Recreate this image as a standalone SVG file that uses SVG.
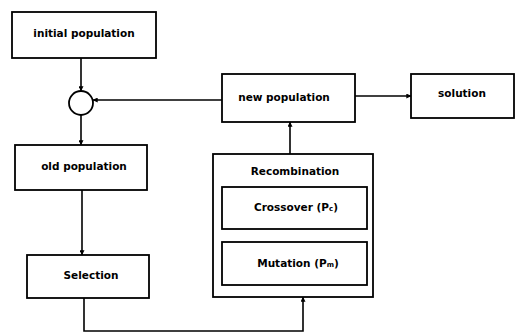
<svg xmlns="http://www.w3.org/2000/svg" width="516" height="334" viewBox="0 0 516 334">
<style>
.box{fill:#fff;stroke:#000;stroke-width:1.8}
.t{font-family:"DejaVu Sans","Liberation Sans",Arial,sans-serif;font-size:10.5px;font-weight:bold;fill:#000;text-anchor:middle;dominant-baseline:central}
.c{fill:none;stroke:#000;stroke-width:1.6}
</style>
<defs>
<marker id="a" viewBox="0 0 8 8" refX="7.5" refY="4" markerWidth="5" markerHeight="5" orient="auto" markerUnits="userSpaceOnUse">
<path d="M0,0 L8,4 L0,8 z" fill="#000"/>
</marker>
</defs>
<rect width="516" height="334" fill="#fff"/>
<g id="connectors">
<path class="c" d="M81,58 V91" marker-end="url(#a)"/>
<path class="c" d="M81,115 V145" marker-end="url(#a)"/>
<path class="c" d="M82,190 V255" marker-end="url(#a)"/>
<path class="c" d="M222,100 H93" marker-end="url(#a)"/>
<path class="c" d="M355,96 H411" marker-end="url(#a)"/>
<path class="c" d="M290,154 V122" marker-end="url(#a)"/>
<path class="c" d="M84,298 V331 H303 V297" marker-end="url(#a)"/>
</g>
<g id="initial">
<rect class="box" x="12" y="12" width="144" height="46"/>
<text class="t" x="84" y="33">initial population</text>
</g>
<g id="merge">
<circle cx="81" cy="103" r="12" fill="#fff" stroke="#000" stroke-width="1.8"/>
</g>
<g id="old">
<rect class="box" x="15" y="145" width="132" height="45"/>
<text class="t" x="84" y="166">old population</text>
</g>
<g id="selection">
<rect class="box" x="27" y="255" width="122" height="43"/>
<text class="t" x="91" y="275">Selection</text>
</g>
<g id="newpop">
<rect class="box" x="222" y="74" width="133" height="48"/>
<text class="t" x="284" y="97">new population</text>
</g>
<g id="solution">
<rect class="box" x="411" y="74" width="103" height="44"/>
<text class="t" x="462" y="93">solution</text>
</g>
<g id="recombination">
<rect class="box" x="213" y="154" width="160" height="143"/>
<text class="t" x="295" y="171">Recombination</text>
</g>
<g id="crossover">
<rect class="box" x="222" y="187" width="145" height="42"/>
<text class="t" x="296" y="207">Crossover (P<tspan font-size="7" dy="2">c</tspan><tspan dy="-2">)</tspan></text>
</g>
<g id="mutation">
<rect class="box" x="222" y="242" width="145" height="43"/>
<text class="t" x="298" y="263">Mutation (P<tspan font-size="7" dy="2">m</tspan><tspan dy="-2">)</tspan></text>
</g>
</svg>
